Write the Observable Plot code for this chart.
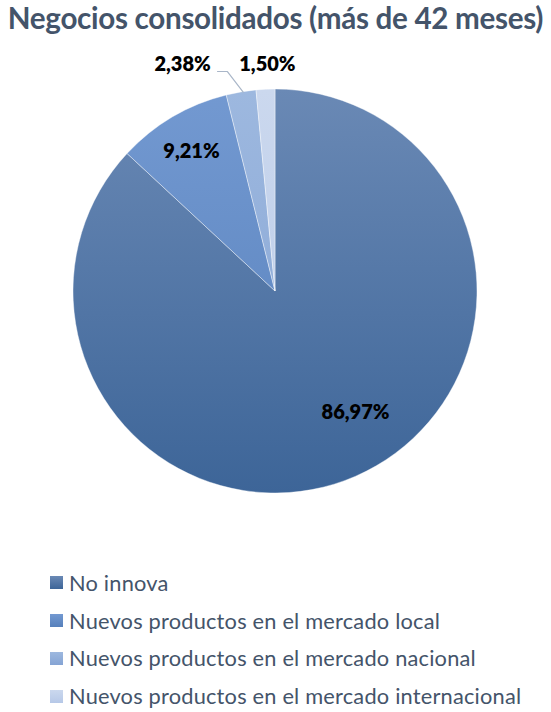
<!DOCTYPE html>
<html>
<head>
<meta charset="utf-8">
<script src="https://cdn.jsdelivr.net/npm/d3@7"></script>
<script src="https://cdn.jsdelivr.net/npm/@observablehq/plot@0.6"></script>
<style>
  html, body { margin: 0; padding: 0; background: #fff; }
  #wrap { position: relative; width: 551px; height: 712px; overflow: hidden; font-family: Lato, "Open Sans", sans-serif; }
  #title { position: absolute; left: 0; top: -1px; width: 551px; text-align: center; font-weight: 700; font-size: 29.6px; color: #44546a; line-height: 38px; white-space: nowrap; letter-spacing: -0.3px; }
  #chart { position: absolute; left: 0; top: 44px; }
  #legend { position: absolute; left: 50px; top: 564px; }
  .row { display: flex; align-items: center; height: 37.8px; font-size: 21.8px; line-height: 26px; color: #44546a; white-space: nowrap; letter-spacing: 0.2px; }
  .sw { width: 13px; height: 13px; margin-right: 6px; flex: none; }
</style>
</head>
<body>
<div id="wrap">
  <div id="title"></div>
  <div id="chart"></div>
  <div id="legend"></div>
</div>
<script>
// ---- data ----
const title = "Negocios consolidados (más de 42 meses)";
const categories = [
  "No innova",
  "Nuevos productos en el mercado local",
  "Nuevos productos en el mercado nacional",
  "Nuevos productos en el mercado internacional"
];
const values = [86.97, 9.21, 2.38, 1.50];
const valueLabels = ["86,97%", "9,21%", "2,38%", "1,50%"];

// ---- styling / layout (not data) ----
const colorsTop = ["#6a89b5", "#7399d1", "#9db8df", "#cbd8ee"];
const colorsBottom = ["#3d6598", "#5680bb", "#85a4d4", "#b6c8e7"];
// label anchor positions in pie-radius units (relative to centre)
const labelX = [0.396, -0.416, -0.46, -0.04];
const labelY = [-0.599, 0.693, 1.124, 1.124];
const leaderX = [-0.287, -0.238, -0.160];
const leaderY = [1.089, 1.089, 0.987];

document.getElementById("title").textContent = title;

const W = 551, H = 500;
const cx = 275, cy = 247, R = 202;

const slices = d3.pie().sort(null).value(d => d.value)(
  categories.map((c, i) => ({category: c, value: values[i], i}))
);

const pieMark = (index, scales) => {
  const x = scales.x, y = scales.y;
  const px0 = x(0), py0 = y(0);
  const rad = Math.abs(x(1) - x(0));
  const g = d3.create("svg:g");
  const defs = g.append("defs");
  slices.forEach(s => {
    const lg = defs.append("linearGradient")
      .attr("id", "grad" + s.data.i)
      .attr("gradientUnits", "userSpaceOnUse")
      .attr("x1", 0).attr("y1", -rad).attr("x2", 0).attr("y2", rad);
    lg.append("stop").attr("offset", "0%").attr("stop-color", colorsTop[s.data.i]);
    lg.append("stop").attr("offset", "100%").attr("stop-color", colorsBottom[s.data.i]);
  });
  const arc = d3.arc().innerRadius(0).outerRadius(rad);
  g.append("g").attr("transform", `translate(${px0},${py0})`)
    .selectAll("path").data(slices).join("path")
    .attr("d", arc)
    .attr("fill", d => `url(#grad${d.data.i})`)
    .attr("stroke", "#ffffff")
    .attr("stroke-opacity", 0.5)
    .attr("stroke-width", 0.8);
  return g.node();
};

const labels = valueLabels.map((t, i) => ({t, x: labelX[i], y: labelY[i]}));
const leader = leaderX.map((x, i) => ({x, y: leaderY[i]}));

const plot = Plot.plot({
  width: W,
  height: H,
  margin: 0,
  x: {domain: [-cx / R, (W - cx) / R], range: [0, W], axis: null},
  y: {domain: [-(H - cy) / R, cy / R], range: [H, 0], axis: null},
  marks: [
    pieMark,
    Plot.line(leader, {x: "x", y: "y", stroke: "#a9b6c8", strokeWidth: 1.2}),
    Plot.text(labels, {x: "x", y: "y", text: "t", fontSize: 20, fontWeight: 800, fill: "#000", fontFamily: "Lato, sans-serif"})
  ],
  style: {background: "transparent", overflow: "visible"}
});
document.getElementById("chart").appendChild(plot);

const legend = document.getElementById("legend");
categories.forEach((c, i) => {
  const row = document.createElement("div");
  row.className = "row";
  const sw = document.createElement("div");
  sw.className = "sw";
  sw.style.background = `linear-gradient(${colorsTop[i]}, ${colorsBottom[i]})`;
  const tx = document.createElement("span");
  tx.textContent = c;
  row.appendChild(sw);
  row.appendChild(tx);
  legend.appendChild(row);
});
</script>
</body>
</html>
